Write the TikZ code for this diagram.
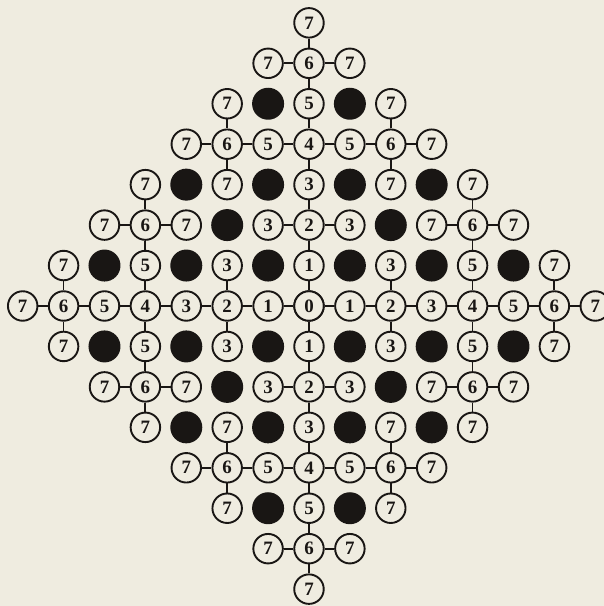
\documentclass[tikz,border=0pt]{standalone}
\usepackage{fontspec}
\setmainfont{Liberation Serif}
\definecolor{bg}{RGB}{239,236,224}
\definecolor{ink}{RGB}{25,22,20}
\begin{document}
\begin{tikzpicture}[x=40.9bp,y=40.45bp,
  wnode/.style={circle,draw=ink,fill=bg,line width=1.9bp,minimum size=29.5bp,inner sep=0pt,
    font=\fontsize{19}{19}\selectfont\bfseries,text=ink},
  bnode/.style={circle,fill=ink,minimum size=32bp,inner sep=0pt},
  link/.style={draw=ink,line width=1.8bp}]
\fill[bg] (-7.555,-7.417) rectangle (7.213,7.565);
\useasboundingbox (-7.555,-7.417) rectangle (7.213,7.565);
% nodes on the two axes
\foreach \i in {-7,...,7}{
  \pgfmathtruncatemacro\pa{\i+7}
  \pgfmathtruncatemacro\val{abs(\i)}
  \node[wnode] (n\pa x7) at (\i,0) {\val};
  \node[wnode] (n7x\pa) at (0,\i) {\val};
}
% white nodes off the axes (four mirrored quadrants)
\foreach \sx in {1,-1}{
 \foreach \sy in {1,-1}{
  \foreach \x/\y/\val in {1/6/7,2/5/7,1/4/5,2/4/6,3/4/7,2/3/7,4/3/7,1/2/3,3/2/7,4/2/6,5/2/7,2/1/3,4/1/5,6/1/7}{
    \pgfmathtruncatemacro\pa{\sx*\x+7}
    \pgfmathtruncatemacro\pb{\sy*\y+7}
    \node[wnode] (n\pa x\pb) at (\sx*\x,\sy*\y) {\val};
  }
  \foreach \x/\y in {1/5,1/3,3/3,2/2,1/1,3/1,5/1}{
    \pgfmathtruncatemacro\pa{\sx*\x+7}
    \pgfmathtruncatemacro\pb{\sy*\y+7}
    \node[bnode] (k\pa x\pb) at (\sx*\x,\sy*\y) {};
  }
 }
}
% links along the axes
\foreach \i in {-7,...,6}{
  \pgfmathtruncatemacro\pa{\i+7}
  \pgfmathtruncatemacro\pc{\i+8}
  \draw[link] (n\pa x7) -- (n\pc x7);
  \draw[link] (n7x\pa) -- (n7x\pc);
}
% links off the axes
\foreach \sx in {1,-1}{
 \foreach \sy in {1,-1}{
  \foreach \x/\y/\u/\w in {0/6/1/6,0/4/1/4,1/4/2/4,2/4/3/4,2/4/2/5,2/4/2/3,0/2/1/2,4/0/4/1,4/1/4/2,4/2/3/2,4/2/5/2,4/2/4/3,2/0/2/1,6/0/6/1}{
    \pgfmathtruncatemacro\pa{\sx*\x+7}
    \pgfmathtruncatemacro\pb{\sy*\y+7}
    \pgfmathtruncatemacro\pc{\sx*\u+7}
    \pgfmathtruncatemacro\pd{\sy*\w+7}
    \draw[link] (n\pa x\pb) -- (n\pc x\pd);
  }
 }
}
\end{tikzpicture}
\end{document}
